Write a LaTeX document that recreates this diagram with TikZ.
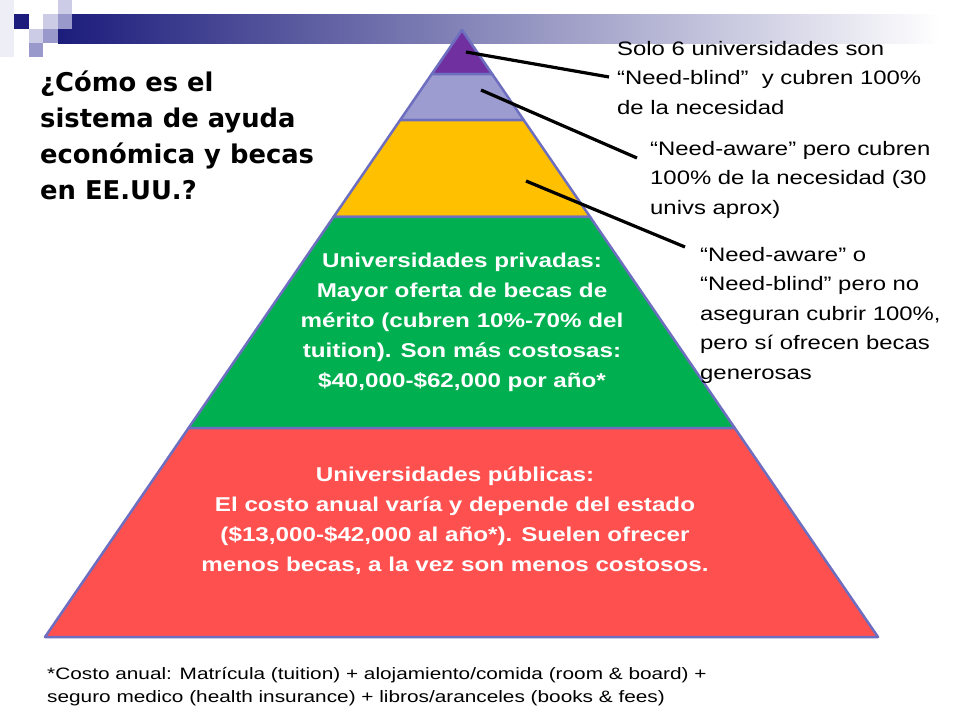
\documentclass[tikz,border=0pt]{standalone}
\usepackage{fontspec}
\setmainfont{Liberation Sans}
\newfontfamily\lblfont[FakeStretch=1.225]{Liberation Sans}
\newfontfamily\notefont[FakeStretch=1.26]{Liberation Sans}
\newfontfamily\bandfont[FakeStretch=1.21]{Liberation Sans}
\newfontfamily\ttlfont{DejaVu Sans}
\usetikzlibrary{calc}
\definecolor{hdnavy}{HTML}{1C1C7C}
\definecolor{sqlight}{HTML}{CCCCE6}
\definecolor{sqmid}{HTML}{9999CC}
\definecolor{sqfaint}{HTML}{EEEEF6}
\definecolor{pyedge}{HTML}{6E6EC0}
\definecolor{pypurple}{HTML}{7030A0}
\definecolor{pylav}{HTML}{9C9CD0}
\definecolor{pyyellow}{HTML}{FFC000}
\definecolor{pygreen}{HTML}{00B050}
\definecolor{pyred}{HTML}{FF5050}
\tikzset{band/.style={draw=pyedge,line width=2.5pt,line join=round}}
\tikzset{lead/.style={draw,black,line width=3.2pt}}
\tikzset{lbl/.style={anchor=north west,inner sep=0pt,align=left,font=\lblfont\fontsize{19.5}{29.5}\selectfont}}
\tikzset{bandtxt/.style={inner sep=0pt,align=center,text=white,font=\bandfont\bfseries\fontsize{20}{30}\selectfont}}

\begin{document}
\begin{tikzpicture}[x=1pt,y=-1pt]
\useasboundingbox (0,0) rectangle (960,720);
\fill[white] (0,0) rectangle (960,720);

% header squares and bar
\fill[sqfaint] (0,0) rectangle (14,57);
\shade[left color=hdnavy,right color=white] (58,14) rectangle (940,43);
\fill[sqlight] (58,0) rectangle (72,14);
\fill[hdnavy] (14,14) rectangle (29,29);
\fill[sqlight] (43,14) rectangle (58,29);
\fill[sqmid] (58,14) rectangle (72,29);
\fill[sqlight] (29,29) rectangle (43,43);
\fill[sqmid] (43,29) rectangle (58,43);
\fill[sqmid] (29,43) rectangle (43,57);

\node[anchor=north west,inner sep=0pt,align=left,font=\ttlfont\bfseries\fontsize{25.8}{36}\selectfont] (ttl) at (40,71)
  {¿Cómo es el\\sistema de ayuda\\económica y becas\\en EE.UU.?};

% pyramid
\coordinate (apex) at (462,30);
\coordinate (bl) at (45,637);
\coordinate (br) at (878,637);
\foreach \ta/\tb/\fc in {0/0.0725/pypurple,0.0725/0.1483/pylav,0.1483/0.308/pyyellow,0.308/0.6557/pygreen,0.6557/1/pyred}
  \path[band,fill=\fc] ($(apex)!\ta!(bl)$) -- ($(apex)!\tb!(bl)$) -- ($(apex)!\tb!(br)$) -- ($(apex)!\ta!(br)$) -- cycle;

\node[bandtxt] (priv) at (462,322) {Universidades privadas:\\Mayor oferta de becas de\\mérito (cubren 10\%-70\% del\\tuition). Son más costosas:\\\$40,000-\$62,000 por año*};
\node[bandtxt] (publ) at (455,520.5) {Universidades públicas:\\El costo anual varía y depende del estado\\(\$13,000-\$42,000 al año*). Suelen ofrecer\\menos becas, a la vez son menos costosos.};

% labels on the right
\node[lbl] (blind) at (617,41) {Solo 6 universidades son\\“Need-blind”\ \ y cubren 100\%\\de la necesidad};
\node[lbl] (aware) at (650,141) {“Need-aware” pero cubren\\100\% de la necesidad (30\\univs aprox)};
\node[lbl] (other) at (700,247) {“Need-aware” o\\“Need-blind” pero no\\aseguran cubrir 100\%,\\pero sí ofrecen becas\\generosas};

\coordinate (s1) at (466,52);
\coordinate (e1) at (609,77);
\coordinate (s2) at (481,90);
\coordinate (e2) at (637,158);
\coordinate (s3) at (526,181);
\coordinate (e3) at (685,247);
\draw[lead] (s1) -- (e1);
\draw[lead] (s2) -- (e2);
\draw[lead] (s3) -- (e3);

\node[anchor=north west,inner sep=0pt,align=left,font=\notefont\fontsize{16.5}{23}\selectfont] (note) at (47,667)
  {*Costo anual: Matrícula (tuition) + alojamiento/comida (room \& board) +\\seguro medico (health insurance) + libros/aranceles (books \& fees)};
\end{tikzpicture}
\end{document}
